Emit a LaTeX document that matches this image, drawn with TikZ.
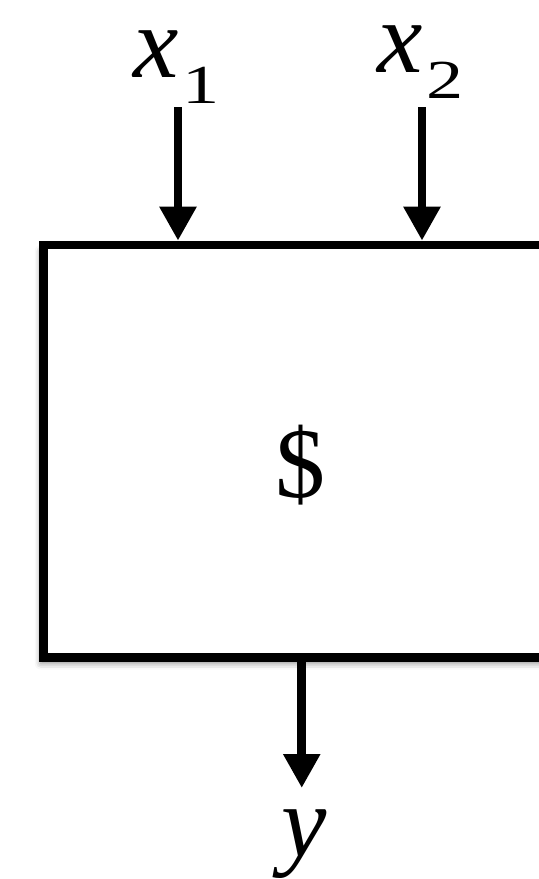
\documentclass[tikz,border=0pt]{standalone}
\usepackage{fontspec}
\setmainfont{Liberation Serif}
\usetikzlibrary{arrows.meta,shadows.blur}

\newcommand{\sublabel}[2]{{\itshape #1}\kern2pt\raisebox{-13pt}{\scalebox{1.35}[1]{\fontsize{27.5}{32}\selectfont #2}}}

\begin{document}
\begin{tikzpicture}[x=0.5pt,y=-0.5pt,
  every node/.style={inner sep=0pt},
  flow/.style={line width=4.3pt,-{Triangle[length=17pt,width=17.5pt]}},
  label/.style={font=\fontsize{51}{60}\selectfont},
  block/.style={draw,fill=white,line width=4.3pt,minimum width=258pt,minimum height=206.25pt,
    blur shadow={shadow xshift=-1.5pt,shadow yshift=-3pt,shadow blur radius=3pt,shadow opacity=45}}]
\useasboundingbox (0,0) rectangle (539,879);
% the block and its contents
\node[block] (box) at (301.75,451.25) {};
\node[font=\fontsize{50}{60}\selectfont,anchor=base] (sym) at (300,497) {\$};
% inputs
\node[label,anchor=base west] (x1) at (133,77) {\sublabel{x}{1}};
\node[label,anchor=base west] (x2) at (377,72) {\sublabel{x}{2}};
\coordinate (in1) at (178,107);
\coordinate (in2) at (422,107);
\draw[flow] (in1) -- (in1 |- box.north);
\draw[flow] (in2) -- (in2 |- box.north);
% output
\coordinate (out) at (301.75,788);
\draw[flow] (box.south) -- (out);
\node[label,anchor=base] (y) at (304,856) {\itshape y};
\end{tikzpicture}
\end{document}
